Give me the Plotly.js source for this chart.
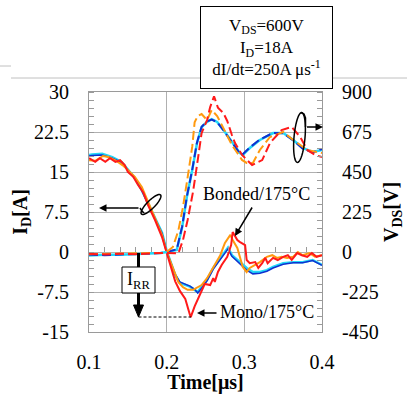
<!DOCTYPE html>
<html>
<head>
<meta charset="utf-8">
<script src="https://cdn.plot.ly/plotly-3.0.1.min.js"></script>
<style>html,body{margin:0;padding:0;background:#fff}#chart{width:407px;height:394px}</style>
</head>
<body>
<div id="chart"></div>
<script>
// ---------------- data ----------------
// Drain current I_D [A] (left axis)
const tCyanI = [0.100,0.104,0.117,0.130,0.142,0.150,0.159,0.168,0.176,0.185,0.194,0.200,0.211,0.217,0.224,0.230,0.236,0.240,0.245,0.252,0.260,0.269,0.279,0.284,0.294,0.303,0.311,0.320,0.329,0.337,0.350,0.363,0.375,0.388,0.400];
const cyanI  = [18.2,18.3,18.4,17.8,16.9,15.4,13.9,11.6,9.2,6.6,3.6,0.2,-4.3,-5.8,-6.2,-6.5,-7.1,-7.5,-6.5,-5.2,-3.0,-1.1,0.8,-0.6,-1.9,-3.0,-3.75,-3.75,-3.4,-2.8,-2.1,-1.9,-1.9,-1.5,-2.4];
const blueI  = [18.0,18.1,18.2,17.6,16.8,15.3,13.8,11.5,9.1,6.5,3.5,0.1,-4.2,-5.6,-6.0,-6.4,-7.0,-7.7,-6.8,-5.4,-3.2,-1.3,0.6,-0.8,-2.2,-3.4,-4.1,-4.0,-3.6,-3.0,-2.3,-2.0,-2.0,-1.6,-2.5];

const tRedI = [0.100,0.108,0.114,0.121,0.127,0.134,0.140,0.146,0.150,0.157,0.163,0.170,0.176,0.185,0.194,0.200,0.211,0.217,0.224,0.230,0.231,0.236,0.243,0.249,0.256,0.260,0.262,0.266,0.271,0.278,0.283,0.285,0.291,0.294,0.301,0.303,0.307,0.314,0.318,0.323,0.327,0.330,0.337,0.343,0.350,0.356,0.361,0.368,0.374,0.381,0.387,0.393,0.400];
const redI  = [17.6,16.9,17.6,16.9,17.6,16.9,17.2,16.3,15.0,14.1,12.6,11.1,8.8,6.0,2.8,0.0,-5.5,-7.3,-8.8,-11.8,-12.2,-10.2,-8.0,-6.0,-6.2,-4.9,-5.6,-3.75,-2.4,-0.9,1.3,3.75,2.25,1.9,1.3,-1.5,-2.1,-1.9,-3.0,-2.1,-1.1,-2.1,-1.1,-1.5,-0.9,-0.6,-1.5,-0.2,-0.6,-0.9,-0.2,-0.9,-0.6];

const tOrangeI = [0.100,0.108,0.118,0.125,0.134,0.143,0.150,0.159,0.168,0.176,0.185,0.194,0.200,0.208,0.215,0.221,0.227,0.234,0.239,0.245,0.252,0.260,0.269,0.275,0.282,0.285,0.291,0.298,0.303,0.307,0.314,0.320,0.329,0.336,0.342,0.348,0.355,0.363,0.369,0.375,0.384,0.391,0.400];
const orangeI  = [17.2,17.1,18.0,17.8,17.2,16.3,15.4,14.1,12.2,9.4,6.4,3.2,0.0,-3.0,-5.6,-6.6,-7.1,-7.1,-6.75,-6.2,-4.9,-2.8,-0.6,1.7,3.2,2.25,0.75,-2.8,-3.75,-3.0,-2.4,-1.9,-0.9,-0.6,-1.1,-0.9,-1.1,-0.9,0.0,-0.6,-0.2,-0.9,-0.6];

// Drain-source voltage V_DS [V] (right axis)
const tCyanV = [0.100,0.120,0.140,0.160,0.180,0.192,0.200,0.213,0.220,0.226,0.233,0.239,0.245,0.252,0.258,0.265,0.273,0.282,0.291,0.294,0.298,0.307,0.320,0.337,0.350,0.363,0.375,0.388,0.400];
const cyanV  = [-20,-15,-15,-12,-8,-5,0,11,141,309,462,612,702,732,747,732,687,630,573,558,546,585,630,669,669,630,585,563,574];
const blueV  = [-15,-18,-14,-12,-9,-6,0,15,145,312,465,615,705,735,745,730,685,628,570,556,550,588,633,670,668,628,582,560,580];

const tOrangeV = [0.100,0.120,0.140,0.160,0.180,0.195,0.200,0.208,0.215,0.221,0.227,0.233,0.236,0.240,0.245,0.252,0.258,0.265,0.271,0.278,0.284,0.291,0.297,0.303,0.311,0.320,0.333,0.350,0.363,0.381,0.400];
const orangeV  = [-12,-10,-12,-8,-8,-5,0,28,120,253,420,595,730,765,776,742,799,765,714,658,602,557,518,501,501,574,647,675,630,574,557];

const tRedV = [0.100,0.120,0.140,0.160,0.180,0.200,0.215,0.221,0.227,0.234,0.240,0.245,0.252,0.256,0.261,0.266,0.273,0.278,0.284,0.288,0.297,0.303,0.310,0.323,0.333,0.348,0.361,0.372,0.381,0.391,0.400];
const redV  = [-10,-14,-10,-12,-8,-5,-8,67,180,340,517,669,742,815,875,812,782,737,658,613,546,518,489,517,613,686,703,647,574,546,534];

// tick labels
const xTicks = [0.1,0.2,0.3,0.4];
const xLabels = ['0.1','0.2','0.3','0.4'];
const yTicks = [-15,-7.5,0,7.5,15,22.5,30];
const yLabels = ['-15','-7.5','0','7.5','15','22.5','30'];
const y2Ticks = [-450,-225,0,225,450,675,900];
const y2Labels = ['-450','-225','0','225','450','675','900'];

// ---------------- styling ----------------
const FONT = '"Liberation Serif", "Times New Roman", serif';
const RED = '#ff1a1a', ORANGE = '#ff9a10', CYAN = '#22d8f8', BLUE = '#1030d0';
const DASH = '9px,4px';

// pixel helpers for decorations (plot area 89..322 x 92..332)
const PL = 89, PR = 322, PT = 92, PB = 332;
const X0 = 0.1, X1 = 0.4, Y0 = -15, Y1 = 30;
const px = v => (v - PL) / (PR - PL);
const py = v => (PB - v) / (PB - PT);
const dx = v => X0 + (v - PL) / (PR - PL) * (X1 - X0);
const dy = v => Y0 + (PB - v) / (PB - PT) * (Y1 - Y0);

function ellipsePath(cx, cy, a, b, angDeg) {
  const ang = angDeg * Math.PI / 180;
  const pts = [];
  for (let i = 0; i <= 48; i++) {
    const th = i / 48 * 2 * Math.PI;
    const ex = a * Math.cos(th), ey = b * Math.sin(th);
    const x = cx + ex * Math.cos(ang) - ey * Math.sin(ang);
    const y = cy + ex * Math.sin(ang) + ey * Math.cos(ang);
    pts.push(dx(x).toFixed(5) + ',' + dy(y).toFixed(4));
  }
  return 'M' + pts.join('L') + 'Z';
}
function polyPath(list, close) {
  return 'M' + list.map(p => dx(p[0]).toFixed(5) + ',' + dy(p[1]).toFixed(4)).join('L') + (close ? 'Z' : '');
}

const line = (x, y, color, dash, yaxis, w) => ({
  type: 'scatter', mode: 'lines', x: x, y: y, yaxis: yaxis || 'y',
  line: {color: color, width: w || 2, dash: dash || 'solid'}, hoverinfo: 'skip'
});

const traces = [
  line(tCyanI, cyanI, CYAN, null, 'y', 2.5),
  line(tCyanI, blueI, BLUE, null, 'y', 1.5),
  line(tOrangeI, orangeI, ORANGE),
  line(tRedI, redI, RED),
  line(tCyanV, cyanV, CYAN, null, 'y2', 2.5),
  line(tCyanV, blueV, BLUE, DASH, 'y2', 2),
  line(tOrangeV, orangeV, ORANGE, DASH, 'y2', 2),
  line(tRedV, redV, RED, DASH, 'y2', 2),
  {type: 'scatter', mode: 'lines', x: [0.1, 0.4], y: [null, null], xaxis: 'x2', hoverinfo: 'skip', showlegend: false}
];

const minorX = [];
for (let k = 12; k <= 38; k += 2) { if (k % 10 !== 0) minorX.push(k / 100); }

const GRID = '#b0b0b0', FRAME = '#9a9a9a';

const shapes = [
  // slide rules at the top
  {type: 'line', xref: 'paper', yref: 'paper', x0: px(11), x1: px(407), y0: py(78), y1: py(78), line: {color: '#c0c0c0', width: 1}},
  {type: 'line', xref: 'paper', yref: 'paper', x0: px(0), x1: px(11), y0: py(66), y1: py(66), line: {color: '#c0c0c0', width: 1}},
  // left loop around current curves
  {type: 'path', xref: 'x', yref: 'y', path: ellipsePath(151, 204.5, 13.5, 4, -45), line: {color: 'black', width: 1.5}},
  {type: 'path', xref: 'x', yref: 'y', path: polyPath([[140, 208], [142, 211], [144, 213]]), line: {color: 'black', width: 1.5}},
  // right loop around voltage curves
  {type: 'path', xref: 'x', yref: 'y', path: ellipsePath(299.5, 137.5, 25, 5.5, 95), line: {color: 'black', width: 1.5}},
  {type: 'path', xref: 'x', yref: 'y', path: polyPath([[301, 112.5], [304, 114], [305.5, 118], [305.5, 127]]), line: {color: 'black', width: 1.5}},
  // I_RR marker
  {type: 'line', xref: 'x', yref: 'y', x0: dx(138.5), x1: dx(138.5), y0: dy(253), y1: dy(267), line: {color: 'black', width: 3}},
  {type: 'rect', xref: 'x', yref: 'y', x0: dx(122), x1: dx(155), y0: dy(267), y1: dy(293), line: {color: 'black', width: 1}, fillcolor: 'white'},
  {type: 'line', xref: 'x', yref: 'y', x0: dx(138.5), x1: dx(138.5), y0: dy(293), y1: dy(306), line: {color: 'black', width: 3}},
  {type: 'path', xref: 'x', yref: 'y', path: polyPath([[133.5, 305], [143.5, 305], [138.5, 317]], true), fillcolor: 'black', line: {color: 'black', width: 1}},
  {type: 'line', xref: 'x', yref: 'y', x0: dx(138.5), x1: dx(191), y0: dy(317), y1: dy(317), line: {color: 'black', width: 1, dash: '3px,2px'}}
];

const annotations = [
  {xref: 'paper', yref: 'paper', x: px(266.5), y: py(47.5), xanchor: 'center', yanchor: 'middle', showarrow: false,
   text: 'V<sub>DS</sub>=600V<br>I<sub>D</sub>=18A<br>dI/dt=250A μs<sup>-1</sup>',
   font: {family: FONT, size: 17, color: 'black'}, align: 'center',
   bordercolor: 'black', borderwidth: 1, borderpad: 2, bgcolor: 'white', width: 127, height: 77},
  // left arrow
  {xref: 'x', yref: 'y', x: dx(99), y: dy(208), axref: 'x', ayref: 'y', ax: dx(140), ay: dy(208), text: '', showarrow: true,
   arrowhead: 2, arrowsize: 1, arrowwidth: 1.5, arrowcolor: 'black'},
  // right arrow
  {xref: 'x', yref: 'y', x: dx(323), y: dy(127), axref: 'x', ayref: 'y', ax: dx(305.5), ay: dy(127), text: '', showarrow: true,
   arrowhead: 2, arrowsize: 1, arrowwidth: 1.5, arrowcolor: 'black'},
  // Bonded label + arrow
  {xref: 'x', yref: 'y', x: dx(256), y: dy(194), text: 'Bonded/175°C', showarrow: false, xanchor: 'center', yanchor: 'middle',
   font: {family: FONT, size: 18, color: 'black'}},
  {xref: 'x', yref: 'y', x: dx(235), y: dy(236), axref: 'x', ayref: 'y', ax: dx(253), ay: dy(206), text: '', showarrow: true,
   arrowhead: 2, arrowsize: 1, arrowwidth: 1.5, arrowcolor: 'black'},
  // Mono label + arrow
  {xref: 'x', yref: 'y', x: dx(218), y: dy(312), text: 'Mono/175°C', showarrow: false, xanchor: 'left', yanchor: 'middle',
   font: {family: FONT, size: 18, color: 'black'}},
  {xref: 'x', yref: 'y', x: dx(197), y: dy(313), axref: 'x', ayref: 'y', ax: dx(218), ay: dy(313), text: '', showarrow: true,
   arrowhead: 2, arrowsize: 1, arrowwidth: 1.5, arrowcolor: 'black'},
  // I_RR text
  {xref: 'x', yref: 'y', x: dx(138.5), y: dy(280), text: 'I<sub>RR</sub>', showarrow: false, xanchor: 'center', yanchor: 'middle',
   font: {family: FONT, size: 18, color: 'black'}}
];

const layout = {
  width: 407, height: 394,
  margin: {l: PL, r: 407 - PR, t: PT, b: 394 - PB, pad: 0},
  paper_bgcolor: 'white', plot_bgcolor: 'white',
  showlegend: false,
  font: {family: FONT, color: 'black'},
  xaxis: {
    range: [X0, X1], tickmode: 'array', tickvals: xTicks, ticktext: xLabels, ticks: '',
    showline: true, linecolor: FRAME, linewidth: 1, mirror: true,
    showgrid: true, gridcolor: GRID, gridwidth: 1, zeroline: false,
    tickfont: {family: FONT, size: 20, color: 'black'}, ticklabelstandoff: 12,
    title: {text: '<b>Time[μs]</b>', font: {family: FONT, size: 20, color: 'black'}, standoff: 4}
  },
  xaxis2: {
    overlaying: 'x', anchor: 'free', position: py(252), range: [X0, X1],
    showline: false, showgrid: false, zeroline: false, showticklabels: false,
    ticks: 'inside', tickmode: 'array', tickvals: minorX, ticklen: 5, tickcolor: FRAME, tickwidth: 1
  },
  yaxis: {
    range: [Y0, Y1], tickmode: 'array', tickvals: yTicks, ticktext: yLabels, ticks: '',
    showline: true, linecolor: FRAME, linewidth: 1,
    showgrid: true, gridcolor: GRID, gridwidth: 1, zeroline: false,
    minor: {tickmode: 'linear', tick0: -15, dtick: 1.5, ticks: 'inside', ticklen: 5, tickcolor: FRAME, tickwidth: 1, showgrid: false},
    tickfont: {family: FONT, size: 20, color: 'black'}, ticklabelstandoff: 15,
    title: {text: '<b>I<sub>D</sub>[A]</b>', font: {family: FONT, size: 20, color: 'black'}, standoff: 1}
  },
  yaxis2: {
    overlaying: 'y', side: 'right', range: [-450, 900], tickmode: 'array', tickvals: y2Ticks, ticktext: y2Labels, ticks: '',
    showline: true, linecolor: FRAME, linewidth: 1,
    showgrid: false, zeroline: false,
    minor: {tickmode: 'linear', tick0: -450, dtick: 45, ticks: 'inside', ticklen: 5, tickcolor: FRAME, tickwidth: 1, showgrid: false},
    tickfont: {family: FONT, size: 20, color: 'black'}, ticklabelstandoff: 15,
    title: {text: '<b>V<sub>DS</sub>[V]</b>', font: {family: FONT, size: 20, color: 'black'}, standoff: 6}
  },
  shapes: shapes,
  annotations: annotations
};

Plotly.newPlot('chart', traces, layout, {displayModeBar: false, staticPlot: true});
</script>
</body>
</html>
